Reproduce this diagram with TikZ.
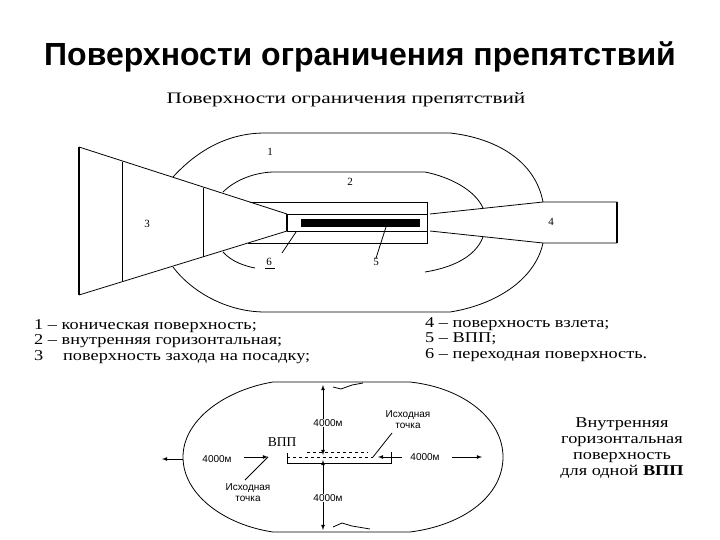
\documentclass[tikz,border=0pt]{standalone}
\usepackage{fontspec}
\setmainfont{Liberation Serif}
\newfontfamily\headfont{Liberation Sans}
\newfontfamily\wideserif[FakeStretch=1.22]{Liberation Serif}
\newfontfamily\widerserif[FakeStretch=1.33]{Liberation Serif}
\usetikzlibrary{arrows}
\tikzset{
  txt/.style={inner sep=0pt, font=\fontsize{11}{12}\selectfont},
  legendtxt/.style={inner sep=0pt, anchor=base west, font=\wideserif\fontsize{15}{17}\selectfont},
  smalltxt/.style={inner sep=0pt, font=\headfont\fontsize{10}{11}\selectfont},
  dim/.style={->,>=latex,line width=0.8pt},
  fine/.style={line width=0.8pt},
  heavy/.style={line width=1.4pt}
}
\begin{document}
\begin{tikzpicture}[x=1pt, y=-1pt]
\useasboundingbox (0,0) rectangle (720,540);
%%%%% Titles %%%%%
\node[inner sep=0pt, font=\headfont\bfseries\fontsize{32}{36}\selectfont] (head) at (360,57) {Поверхности ограничения препятствий};
\node[inner sep=0pt, font=\widerserif\fontsize{16}{18}\selectfont] (subhead) at (346,100) {Поверхности ограничения препятствий};
%%%%% Approach surface %%%%%
\coordinate (appTL) at (79,147);
\coordinate (appBL) at (79,295);
\coordinate (rwyTL) at (287,214);
\coordinate (rwyBL) at (287,231);
\draw[heavy] (appTL)--(appBL);
\draw[fine] (appTL)--(rwyTL);
\draw[fine] (appBL)--(rwyBL);
\draw[fine] (122,162)--(122,281);
\draw[fine] (203,188)--(203,257);
%%%%% Runway strip %%%%%
\coordinate (rwyTR) at (427,214);
\coordinate (rwyBR) at (427,231);
\draw[fine] (rwyTL)--(rwyTR);
\draw[fine] (rwyBL)--(rwyBR);
\draw[heavy] (rwyTL)--(rwyBL);
\draw[fine] (250,202)--(427,202)--(427,243)--(248,243);
\fill[black] (301,219) rectangle (420,227);
%%%%% Take-off surface %%%%%
\coordinate (tofTL) at (543,202);
\coordinate (tofBL) at (543,243);
\draw[fine] (430,214)--(tofTL)--(617,202);
\draw[fine] (430,231)--(tofBL)--(617,243);
\draw[heavy] (617,202)--(617,243);
%%%%% Conical surface %%%%%
\draw[fine] (173,177) .. controls (195,153) and (225,133) .. (265,133)--(450,133) .. controls (495,138) and (535,160) .. (tofTL);
\draw[fine] (173,267) .. controls (190,290) and (225,312) .. (265,312)--(450,312) .. controls (495,305) and (535,280) .. (tofBL);
%%%%% Inner horizontal surface %%%%%
\draw[fine] (223,192) .. controls (235,180) and (255,172) .. (275,172)--(425,172) .. controls (450,177) and (475,190) .. (483,208);
\draw[fine] (223,252) .. controls (232,262) and (245,266) .. (255,268);
\draw[fine] (425,272) .. controls (450,268) and (475,258) .. (483,237);
%%%%% Numbers %%%%%
\node[txt] (num1) at (270,152) {1};
\node[txt] (num2) at (350,182) {2};
\node[txt] (num3) at (147,224) {3};
\node[txt] (num4) at (551,222) {4};
\node[txt] (num5) at (376,262) {5};
\node[txt] (num6) at (269,262) {6};
\draw[fine] (num6.south west)++(-1,3)--++(10,0);
\draw[fine] (386,227)--(num5.north);
\draw[fine] (296,232)--(282,253);
%%%%% Legend %%%%%
\foreach \name/\x/\y/\body in {
  legA/34/329/{1 – коническая поверхность;},
  legB/34/344/{2 – внутренняя горизонтальная;},
  legC/34/360/{3},
  legCbody/63/360/{поверхность захода на посадку;},
  legD/425/327/{4 – поверхность взлета;},
  legE/425/342/{5 – ВПП;},
  legF/425/358/{6 – переходная поверхность.}}{
  \node[legendtxt] (\name) at (\x,\y) {\body};
}
%%%%% Lower oval %%%%%
\draw[fine] (273,382)--(410,382) .. controls (465,388) and (503,420) .. (503,457) .. controls (503,495) and (465,525) .. (410,532)--(273,532) .. controls (225,525) and (183,495) .. (183,457) .. controls (183,420) and (225,390) .. (273,382);
\draw[fine] (333,387)--(341,389)--(352,385)--(363,383);
\draw[fine] (333,527)--(342,523)--(352,526)--(370,529);
%%%%% Lower runway %%%%%
\draw[fine] (287,453)--(287,463)--(391,463)--(391,452);
\draw[fine,dashed] (307,452)--(368,452);
\draw[fine,dashed] (287,457)--(373,457);
\node[inner sep=0pt, font=\fontsize{13.5}{15}\selectfont] (rwylabel) at (282,442) {ВПП};
%%%%% Distances %%%%%
\node[smalltxt] (up) at (328,423) {4000м};
\node[smalltxt] (down) at (328,498) {4000м};
\node[smalltxt] (left) at (217,459) {4000м};
\node[smalltxt] (right) at (425,457) {4000м};
\draw[dim] (323,0 |- up.north)--(323,385);
\draw[dim] (323,0 |- up.south)--(323,455);
\draw[dim] (323,0 |- down.north)--(323,460);
\draw[dim] (323,0 |- down.south)--(323,530);
\draw[dim] (183,459)--(162,459);
\draw[dim] (left.east)++(12,-2)--(268,457);
\draw[dim] (right.west)++(-8,0)--(378,457);
\draw[dim] (right.east)++(12,0)--(482,457);
%%%%% Reference points %%%%%
\node[smalltxt, align=center] (ptleft) at (248,493) {Исходная\\точка};
\node[smalltxt, align=center] (ptright) at (408,420) {Исходная\\точка};
\draw[fine] (268,457)--(245,480);
\draw[fine] (373,457)--(392,433);
%%%%% Caption %%%%%
\node[inner sep=0pt, align=center, font=\wideserif\fontsize{15}{16}\selectfont] (caption) at (622,448) {Внутренняя\\горизонтальная\\поверхность\\для одной \textbf{ВПП}};
\end{tikzpicture}
\end{document}
